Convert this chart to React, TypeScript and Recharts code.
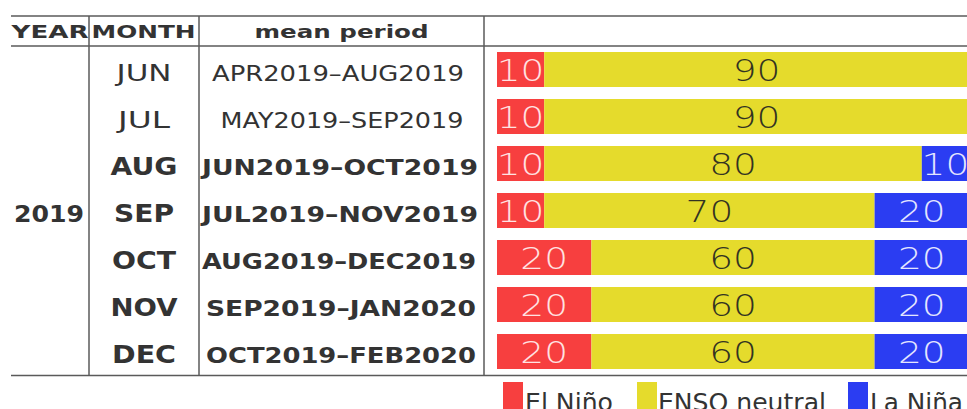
import React from "react";
import { BarChart, Bar, XAxis, YAxis, LabelList, Legend, Customized } from "recharts";

// ---- data ----
const headers = ["YEAR", "MONTH", "mean period"];
const year = "2019";
const months = ["JUN", "JUL", "AUG", "SEP", "OCT", "NOV", "DEC"];
const periods = [
  "APR2019–AUG2019",
  "MAY2019–SEP2019",
  "JUN2019–OCT2019",
  "JUL2019–NOV2019",
  "AUG2019–DEC2019",
  "SEP2019–JAN2020",
  "OCT2019–FEB2020",
];
const boldRows = [false, false, true, true, true, true, true];
const elNino = [10, 10, 10, 10, 20, 20, 20];
const neutral = [90, 90, 80, 70, 60, 60, 60];
const laNina = [0, 0, 10, 20, 20, 20, 20];
const seriesNames = ["El Niño", "ENSO neutral", "La Niña"];

const data = months.map((m, i) => ({
  month: m,
  period: periods[i],
  bold: boldRows[i],
  elNino: elNino[i],
  neutral: neutral[i],
  laNina: laNina[i],
}));

// ---- layout / style ----
const W = 980;
const H = 409;
const COLORS = ["#f73f3f", "#e5db2c", "#2b3df2"];
const LABEL_COLORS = ["#ffe2e2", "#333322", "#e4e6ff"];
const TEXT = "#333";
const LINE = "#5a5a5a";
const FONT = "'DejaVu Sans', Verdana, sans-serif";
const monthWidths = [53, 50, 65, 58, 62, 65, 62];
const periodWidths = [250, 241, 274, 274, 272, 268, 268];
const periodCenters = [338, 342, 340, 340, 339, 341, 341];
const MONTH_X = 144;
const YEAR_X = 49;
const YEAR_W = 68;
const headerPos = [
  { x: 50, w: 77 },
  { x: 143.5, w: 104 },
  { x: 341.5, w: 174 },
];
const legendPos = [
  { sx: 503, tx: 525, tw: 88 },
  { sx: 637, tx: 658, tw: 168 },
  { sx: 848, tx: 870, tw: 93 },
];

const RowTick = (props: any) => {
  const { y, index } = props;
  const i = index;
  const bold = boldRows[i];
  const base = y + 11.5;
  return (
    <g>
      <text
        x={MONTH_X}
        y={base}
        textAnchor="middle"
        fontFamily={FONT}
        fontWeight={bold ? 700 : 400}
        fontSize={bold ? 24 : 23}
        fill={TEXT}
        textLength={monthWidths[i] + 2}
        lengthAdjust="spacingAndGlyphs"
      >
        {months[i]}
      </text>
      <text
        x={periodCenters[i]}
        y={base}
        textAnchor="middle"
        fontFamily={FONT}
        fontWeight={bold ? 700 : 400}
        fontSize={21}
        fill={TEXT}
        textLength={periodWidths[i] + 2}
        lengthAdjust="spacingAndGlyphs"
      >
        {periods[i]}
      </text>
      {i === Math.floor(months.length / 2) && (
        <text
          x={YEAR_X}
          y={base}
          textAnchor="middle"
          fontFamily={FONT}
          fontWeight={700}
          fontSize={23}
          fill={TEXT}
          textLength={YEAR_W + 2}
          lengthAdjust="spacingAndGlyphs"
        >
          {year}
        </text>
      )}
    </g>
  );
};

const makeLabel = (color: string) => (props: any) => {
  const { x, y, width, height, value } = props;
  if (!value) return null;
  const cx = x + width / 2;
  const cy = y + height / 2 + 1;
  return (
    <text
      transform={`translate(${cx},${cy}) scale(1.25,1)`}
      x={0}
      y={0}
      textAnchor="middle"
      dominantBaseline="central"
      fontFamily={FONT}
      fontWeight={200}
      fontSize={30}
      fill={color}
    >
      {value}
    </text>
  );
};

const TableLines = () => (
  <g>
    <line x1={11} x2={W} y1={16} y2={16} stroke={LINE} strokeWidth={1.5} />
    <line x1={11} x2={W} y1={46} y2={46} stroke={LINE} strokeWidth={1.5} />
    <line x1={11} x2={W} y1={375.5} y2={375.5} stroke={LINE} strokeWidth={1.5} />
    {[89, 199, 484].map((x) => (
      <line key={x} x1={x} x2={x} y1={16} y2={376} stroke={LINE} strokeWidth={1.5} />
    ))}
    {headers.map((h, i) => (
      <text
        key={h}
        x={headerPos[i].x}
        y={37.5}
        textAnchor="middle"
        fontFamily={FONT}
        fontWeight={700}
        fontSize={18}
        fill={TEXT}
        textLength={headerPos[i].w}
        lengthAdjust="spacingAndGlyphs"
      >
        {h}
      </text>
    ))}
  </g>
);

const LegendContent = () => (
  <svg width={W} height={40} style={{ display: "block", overflow: "visible" }}>
    {seriesNames.map((n, i) => (
      <g key={n}>
        <rect x={legendPos[i].sx} y={0} width={20} height={30} fill={COLORS[i]} />
        <text
          x={legendPos[i].tx}
          y={29}
          fontFamily={FONT}
          fontSize={25}
          fill={TEXT}
          textLength={legendPos[i].tw}
          lengthAdjust="spacingAndGlyphs"
        >
          {n}
        </text>
      </g>
    ))}
  </svg>
);

export default function App() {
  return (
    <div
      style={{
        position: "fixed",
        left: 0,
        top: 0,
        width: 967,
        height: 409,
        overflow: "hidden",
        background: "#fff",
      }}
    >
      <BarChart
        width={W}
        height={H}
        data={data}
        layout="vertical"
        margin={{ top: 46, right: 11, bottom: 34, left: 0 }}
        barCategoryGap={6}
      >
        <XAxis type="number" domain={[0, 100]} hide />
        <YAxis
          type="category"
          dataKey="month"
          width={497}
          axisLine={false}
          tickLine={false}
          tick={<RowTick />}
          interval={0}
        />
        <Bar dataKey="elNino" name={seriesNames[0]} stackId="a" fill={COLORS[0]} isAnimationActive={false}>
          <LabelList dataKey="elNino" content={makeLabel(LABEL_COLORS[0])} />
        </Bar>
        <Bar dataKey="neutral" name={seriesNames[1]} stackId="a" fill={COLORS[1]} isAnimationActive={false}>
          <LabelList dataKey="neutral" content={makeLabel(LABEL_COLORS[1])} />
        </Bar>
        <Bar dataKey="laNina" name={seriesNames[2]} stackId="a" fill={COLORS[2]} isAnimationActive={false}>
          <LabelList dataKey="laNina" content={makeLabel(LABEL_COLORS[2])} />
        </Bar>
        <Customized component={TableLines} />
        <Legend
          content={<LegendContent />}
          wrapperStyle={{ position: "absolute", left: 0, top: 382, width: W, height: 0, overflow: "visible" }}
        />
      </BarChart>
    </div>
  );
}
